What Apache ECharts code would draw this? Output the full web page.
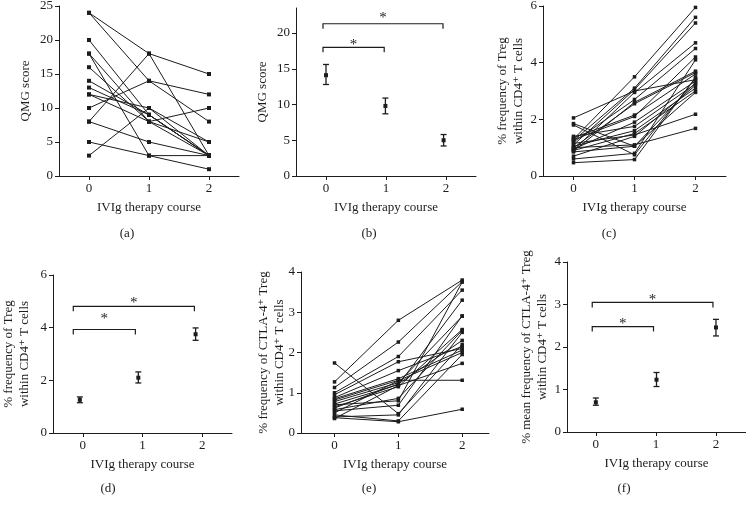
<!DOCTYPE html>
<html><head><meta charset="utf-8">
<script src="https://cdn.jsdelivr.net/npm/echarts@6/dist/echarts.min.js"></script>
<style>html,body{margin:0;padding:0;background:#fff}#c{width:746px;height:508px}</style>
</head><body><div id="c"></div>
<script>
// ---------- DATA ----------
const courseTicks = [0, 1, 2];
const xTitle = 'IVIg therapy course';
// (a) QMG score per patient at course 0, 1, 2
const qmg0 = [24, 24, 20, 18, 18, 16, 14, 13, 12, 12, 10, 8, 8, 5, 3];
const qmg1 = [18, 14, 9, 3, 8, 8, 9, 9, 8, 10, 14, 18, 5, 3, 10];
const qmg2 = [15, 8, 3, 3, 5, 3, 3, 3, 10, 3, 12, 3, 3, 1, 5];
const qmgTicks = [0, 5, 10, 15, 20, 25];
// (b) QMG mean ± SEM
const bX = [0, 0.99, 1.96];
const bMean = [14.1, 9.8, 5.0];
const bLow = [12.8, 8.7, 4.2];
const bHigh = [15.6, 10.9, 5.8];
const bTicks = [0, 5, 10, 15, 20];
const bBrStart = [-0.05, -0.05];
const bBrEnd = [0.97, 1.95];
const bBrY = [18.0, 21.3];
const bStarY = [18.7, 22.5];
// (c) % Treg within CD4+ T cells per patient
const treg0 = [1.30, 2.05, 1.25, 0.92, 1.20, 0.88, 1.10, 1.00, 1.35, 0.95, 1.85, 1.28, 1.40, 1.05, 1.80, 0.90, 1.15, 0.70, 1.00, 0.85, 0.60, 0.47];
const treg1 = [3.50, 3.00, 3.10, 2.95, 2.70, 2.60, 3.05, 2.55, 2.15, 1.90, 1.05, 2.10, 1.75, 1.60, 0.75, 1.50, 1.45, 1.40, 1.10, 1.05, 0.80, 0.58];
const treg2 = [5.95, 3.40, 5.60, 4.70, 4.50, 3.70, 5.40, 3.65, 3.60, 3.35, 3.30, 4.20, 3.25, 3.10, 3.45, 3.00, 2.18, 3.20, 1.68, 2.95, 4.10, 3.48];
const tregTicks = [0, 2, 4, 6];
// (d) Treg mean ± SEM
const dX = [-0.05, 0.93, 1.89];
const dMean = [1.26, 2.10, 3.75];
const dLow = [1.15, 1.90, 3.52];
const dHigh = [1.37, 2.32, 3.99];
const dBrStart = [-0.16, -0.16];
const dBrEnd = [0.88, 1.87];
const dBrY = [3.93, 4.81];
const dStarY = [4.44, 5.04];
// (e) % CTLA-4+ Treg within CD4+ T cells per patient
const ctla0 = [1.27, 1.13, 1.00, 0.95, 0.88, 0.82, 0.78, 0.72, 0.65, 1.74, 0.58, 0.55, 0.50, 0.45, 0.38, 0.36, 0.62, 0.70, 0.85, 0.40];
const ctla1 = [2.80, 2.26, 1.90, 1.77, 1.55, 1.31, 1.25, 1.20, 1.15, 0.48, 0.86, 0.69, 1.30, 0.30, 0.28, 1.18, 1.22, 0.80, 1.35, 0.45];
const ctla2 = [3.80, 3.76, 3.55, 2.10, 2.15, 1.31, 2.90, 3.30, 2.57, 2.20, 2.55, 2.91, 2.00, 1.95, 0.59, 1.73, 2.30, 3.75, 2.06, 2.50];
const ctlaTicks = [0, 1, 2, 3, 4];
// (f) CTLA-4+ Treg mean ± SEM
const fX = [0, 1.01, 2.0];
const fMean = [0.70, 1.23, 2.46];
const fLow = [0.63, 1.07, 2.26];
const fHigh = [0.80, 1.40, 2.65];
const fBrStart = [-0.06, -0.06];
const fBrEnd = [0.96, 1.95];
const fBrY = [2.48, 3.05];
const fStarY = [2.60, 3.18];

// ---------- STYLE / BUILD ----------
const FONT = '"Liberation Serif","DejaVu Serif",serif';
const INK = '#1c1c1c';
const grids = [], xAxes = [], yAxes = [], series = [];

function addPanel(cfg) {
  const gi = grids.length;
  grids.push({ left: cfg.left, top: cfg.top, width: cfg.width, height: cfg.height, containLabel: false, outerBoundsMode: 'none' });
  xAxes.push({
    gridIndex: gi, type: 'value', min: cfg.xmin, max: cfg.xmax,
    axisLine: { show: true, onZero: false, lineStyle: { color: INK, width: 1 } },
    axisTick: { show: true, customValues: courseTicks, length: 4, lineStyle: { color: INK, width: 1 } },
    axisLabel: { customValues: courseTicks, margin: 6, fontFamily: FONT, fontSize: 13, color: INK },
    splitLine: { show: false },
    name: xTitle, nameLocation: 'middle', nameGap: 25, nameMoveOverlap: false,
    nameTextStyle: { fontFamily: FONT, fontSize: 13, color: INK }
  });
  yAxes.push({
    gridIndex: gi, type: 'value', min: 0, max: cfg.ymax, interval: cfg.interval,
    axisLine: { show: true, onZero: false, lineStyle: { color: INK, width: 1 } },
    axisTick: { show: true, customValues: cfg.ticks, length: 4, lineStyle: { color: INK, width: 1 } },
    axisLabel: { customValues: cfg.ticks, margin: 6, fontFamily: FONT, fontSize: 13, color: INK },
    splitLine: { show: false },
    name: cfg.yname, nameLocation: 'middle', nameGap: cfg.ygap, nameMoveOverlap: false,
    nameTextStyle: { fontFamily: FONT, fontSize: 13, color: INK, lineHeight: 16 }
  });
  return gi;
}

function addLines(gi, v0, v1, v2, sym) {
  for (let i = 0; i < v0.length; i++) {
    series.push({
      type: 'line', xAxisIndex: gi, yAxisIndex: gi,
      data: [[courseTicks[0], v0[i]], [courseTicks[1], v1[i]], [courseTicks[2], v2[i]]],
      symbol: 'rect', symbolSize: sym, showSymbol: true,
      lineStyle: { color: INK, width: 1 }, itemStyle: { color: INK },
      animation: false, silent: true
    });
  }
}

function addErrorBars(gi, xs, mean, lo, hi) {
  series.push({
    type: 'custom', xAxisIndex: gi, yAxisIndex: gi, clip: false, animation: false, silent: true,
    data: xs.map((x, i) => [x, mean[i], lo[i], hi[i]]),
    renderItem: function (params, api) {
      const x = api.value(0);
      const pm = api.coord([x, api.value(1)]);
      const pl = api.coord([x, api.value(2)]);
      const ph = api.coord([x, api.value(3)]);
      const st = { stroke: INK, lineWidth: 1.3 };
      return { type: 'group', children: [
        { type: 'line', shape: { x1: pl[0], y1: pl[1], x2: ph[0], y2: ph[1] }, style: st },
        { type: 'line', shape: { x1: pl[0] - 3, y1: pl[1], x2: pl[0] + 3, y2: pl[1] }, style: st },
        { type: 'line', shape: { x1: ph[0] - 3, y1: ph[1], x2: ph[0] + 3, y2: ph[1] }, style: st },
        { type: 'rect', shape: { x: pm[0] - 2, y: pm[1] - 2, width: 4, height: 4 }, style: { fill: INK } }
      ] };
    }
  });
}

function addBrackets(gi, x1, x2, y, starY) {
  series.push({
    type: 'custom', xAxisIndex: gi, yAxisIndex: gi, clip: false, animation: false, silent: true,
    data: x1.map((a, i) => [a, x2[i], y[i], starY[i]]),
    renderItem: function (params, api) {
      const p1 = api.coord([api.value(0), api.value(2)]);
      const p2 = api.coord([api.value(1), api.value(2)]);
      const ps = api.coord([(api.value(0) + api.value(1)) / 2, api.value(3)]);
      return { type: 'group', children: [
        { type: 'polyline', shape: { points: [[p1[0], p1[1] + 5], [p1[0], p1[1]], [p2[0], p2[1]], [p2[0], p2[1] + 5]] },
          style: { stroke: INK, lineWidth: 1.2, fill: null } },
        { type: 'text', x: ps[0], y: ps[1] + 3,
          style: { text: '*', fontFamily: FONT, fontSize: 15, fill: INK, align: 'center', verticalAlign: 'middle' } }
      ] };
    }
  });
}

// (a)
let g = addPanel({ left: 59, top: 6, width: 180, height: 170, xmin: -0.5, xmax: 2.5, ymax: 25, interval: 5, ticks: qmgTicks, yname: 'QMG score', ygap: 25 });
addLines(g, qmg0, qmg1, qmg2, 4);
// (b)
g = addPanel({ left: 296, top: 8, width: 180, height: 168, xmin: -0.5, xmax: 2.5, ymax: 23.5, interval: 5, ticks: bTicks, yname: 'QMG score', ygap: 25 });
addErrorBars(g, bX, bMean, bLow, bHigh);
addBrackets(g, bBrStart, bBrEnd, bBrY, bStarY);
// (c)
g = addPanel({ left: 543, top: 6, width: 183, height: 170, xmin: -0.5, xmax: 2.5, ymax: 6, interval: 2, ticks: tregTicks, yname: '% frequency of Treg\nwithin CD4\u207A T cells', ygap: 16 });
addLines(g, treg0, treg1, treg2, 3.5);
// (d)
g = addPanel({ left: 53, top: 275, width: 179, height: 158, xmin: -0.5, xmax: 2.5, ymax: 6, interval: 2, ticks: tregTicks, yname: '% frequency of Treg\nwithin CD4\u207A T cells', ygap: 20 });
addErrorBars(g, dX, dMean, dLow, dHigh);
addBrackets(g, dBrStart, dBrEnd, dBrY, dStarY);
// (e)
g = addPanel({ left: 301, top: 272, width: 188, height: 161, xmin: -0.525, xmax: 2.42, ymax: 4, interval: 1, ticks: ctlaTicks, yname: '% frequency of CTLA-4\u207A Treg\nwithin CD4\u207A T cells', ygap: 13 });
addLines(g, ctla0, ctla1, ctla2, 3.5);
// (f)
g = addPanel({ left: 567, top: 262, width: 179, height: 170, xmin: -0.48, xmax: 2.5, ymax: 4, interval: 1, ticks: ctlaTicks, yname: '% mean frequency of CTLA-4\u207A Treg\nwithin CD4\u207A T cells', ygap: 16 });
addErrorBars(g, fX, fMean, fLow, fHigh);
addBrackets(g, fBrStart, fBrEnd, fBrY, fStarY);

const panelLabels = ['(a)', '(b)', '(c)', '(d)', '(e)', '(f)'];
const labelPos = [[127, 234], [369, 234], [609, 234], [108, 489], [369, 489], [624, 489]];
const graphic = panelLabels.map((t, i) => ({
  type: 'text', x: labelPos[i][0], y: labelPos[i][1], silent: true,
  style: { text: t, fontFamily: FONT, fontSize: 13, fill: INK, align: 'center', verticalAlign: 'middle', textAlign: 'center', textVerticalAlign: 'middle' }
}));

const chart = echarts.init(document.getElementById('c'), null, { renderer: 'canvas' });
chart.setOption({
  animation: false,
  backgroundColor: '#ffffff',
  grid: grids, xAxis: xAxes, yAxis: yAxes, series: series, graphic: graphic
});
</script></body></html>
